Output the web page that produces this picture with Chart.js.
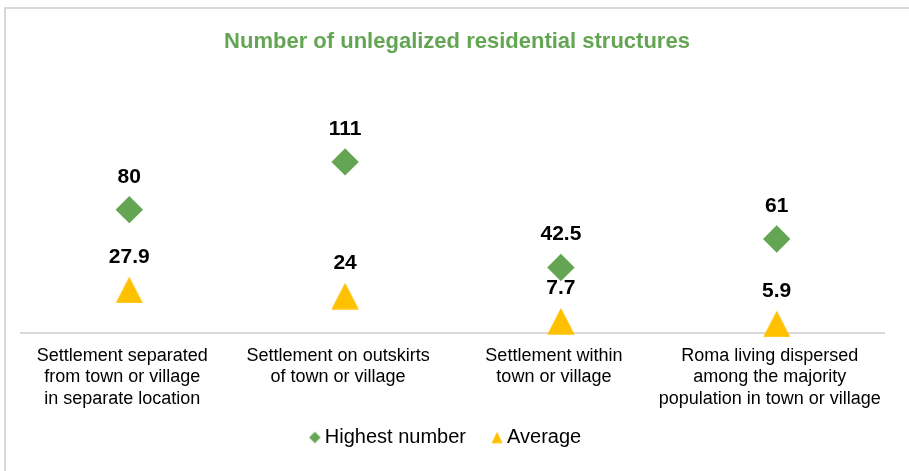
<!DOCTYPE html>
<html>
<head>
<meta charset="utf-8">
<script src="https://cdn.jsdelivr.net/npm/chart.js@4.4.1/dist/chart.umd.min.js"></script>
<style>
  html, body { margin: 0; padding: 0; background: #fff; }
  #wrap { position: relative; width: 909px; height: 471px; overflow: hidden; }
  #frame { position: absolute; left: 4px; top: 7px; right: -4px; bottom: -4px; border-left: 2px solid #d9d9d9; border-top: 2px solid #d9d9d9; pointer-events: none; }
</style>
</head>
<body>
<div id="wrap">
  <canvas id="chart" width="909" height="471"></canvas>
  <div id="frame"></div>
</div>
<script>
// data
const categories = [
  ['Settlement separated', 'from town or village', 'in separate location'],
  ['Settlement on outskirts', 'of town or village'],
  ['Settlement within', 'town or village'],
  ['Roma living dispersed', 'among the majority', 'population in town or village']
];
const seriesNames = ['Highest number', 'Average'];
const highestNumber = [80, 111, 42.5, 61];
const averageValues = [27.9, 24, 7.7, 5.9];

const GREEN = '#64a553';
const YELLOW = '#ffc000';
const FONT = '"Liberation Sans", Arial, sans-serif';

Chart.defaults.font.family = FONT;

// triangle marker, centred on its bounding box like the original
function triangle(w, h, canvasW, canvasH, cx, cy) {
  const c = document.createElement('canvas');
  c.width = canvasW;
  c.height = canvasH;
  const g = c.getContext('2d');
  g.fillStyle = YELLOW;
  g.beginPath();
  g.moveTo(cx, cy - h / 2);
  g.lineTo(cx + w / 2, cy + h / 2);
  g.lineTo(cx - w / 2, cy + h / 2);
  g.closePath();
  g.fill();
  return c;
}

function diamond(r, canvasW, canvasH, cx, cy) {
  const c = document.createElement('canvas');
  c.width = canvasW;
  c.height = canvasH;
  const g = c.getContext('2d');
  g.fillStyle = GREEN;
  g.beginPath();
  g.moveTo(cx, cy - r);
  g.lineTo(cx + r, cy);
  g.lineTo(cx, cy + r);
  g.lineTo(cx - r, cy);
  g.closePath();
  g.fill();
  return c;
}

const triPoint = triangle(27.3, 26.6, 28, 27, 14, 13.5);
// legend markers sit near the text, so they are drawn off-centre in a wider canvas
const legendMarkers = [diamond(5.8, 36, 14, 29, 7), triangle(11, 11.6, 36, 14, 29, 7)];

const valueLabels = {
  id: 'valueLabels',
  afterDatasetsDraw(chart) {
    const ctx = chart.ctx;
    ctx.save();
    ctx.font = 'bold 21px ' + FONT;
    ctx.fillStyle = '#000';
    ctx.textAlign = 'center';
    ctx.textBaseline = 'alphabetic';
    chart.data.datasets.forEach((ds, i) => {
      chart.getDatasetMeta(i).data.forEach((pt, j) => {
        ctx.fillText(String(ds.data[j]), pt.x, pt.y - 27);
      });
    });
    ctx.restore();
  }
};

// legend and title are not centred on the canvas in the original
const nudgeBoxes = {
  id: 'nudgeBoxes',
  afterLayout(chart) {
    chart.legend.left -= 16;
    chart.legend.right -= 16;
    chart.titleBlock.left += 4;
    chart.titleBlock.right += 4;
  }
};

new Chart(document.getElementById('chart'), {
  type: 'line',
  data: {
    labels: categories,
    datasets: [
      {
        label: seriesNames[0],
        data: highestNumber,
        showLine: false,
        pointStyle: 'rectRot',
        pointRadius: 13.7,
        pointHoverRadius: 13.7,
        pointBackgroundColor: GREEN,
        pointBorderWidth: 0,
        clip: false
      },
      {
        label: seriesNames[1],
        data: averageValues,
        showLine: false,
        pointStyle: triPoint,
        pointRadius: 13,
        pointBackgroundColor: YELLOW,
        pointBorderWidth: 0,
        clip: false
      }
    ]
  },
  options: {
    responsive: false,
    animation: false,
    layout: {
      padding: { left: 21.4, right: 24.4, top: 0, bottom: 13.5 }
    },
    scales: {
      x: {
        offset: true,
        grid: { display: false, drawTicks: false },
        border: { display: true, color: '#d9d9d9', width: 2 },
        ticks: {
          color: '#000',
          font: { size: 18, lineHeight: 1.18 },
          padding: 12.5,
          labelOffset: -7,
          maxRotation: 0,
          autoSkip: false
        },
        afterFit(scale) {
          scale.height = 85.5;
        }
      },
      y: {
        display: false,
        min: 0,
        max: 120
      }
    },
    plugins: {
      title: {
        display: true,
        text: 'Number of unlegalized residential structures',
        color: GREEN,
        font: { size: 22, weight: 'bold', lineHeight: 1.2 },
        padding: { top: 29, bottom: 92.6 }
      },
      legend: {
        position: 'bottom',
        labels: {
          usePointStyle: true,
          pointStyleWidth: 22,
          padding: 9,
          color: '#000',
          font: { size: 20 },
          generateLabels(chart) {
            return chart.data.datasets.map((ds, i) => ({
              text: ds.label,
              pointStyle: legendMarkers[i],
              fillStyle: i === 0 ? GREEN : YELLOW,
              strokeStyle: 'transparent',
              lineWidth: 0,
              hidden: !chart.isDatasetVisible(i),
              datasetIndex: i
            }));
          }
        }
      },
      tooltip: { enabled: false }
    }
  },
  plugins: [valueLabels, nudgeBoxes]
});
</script>
</body>
</html>
